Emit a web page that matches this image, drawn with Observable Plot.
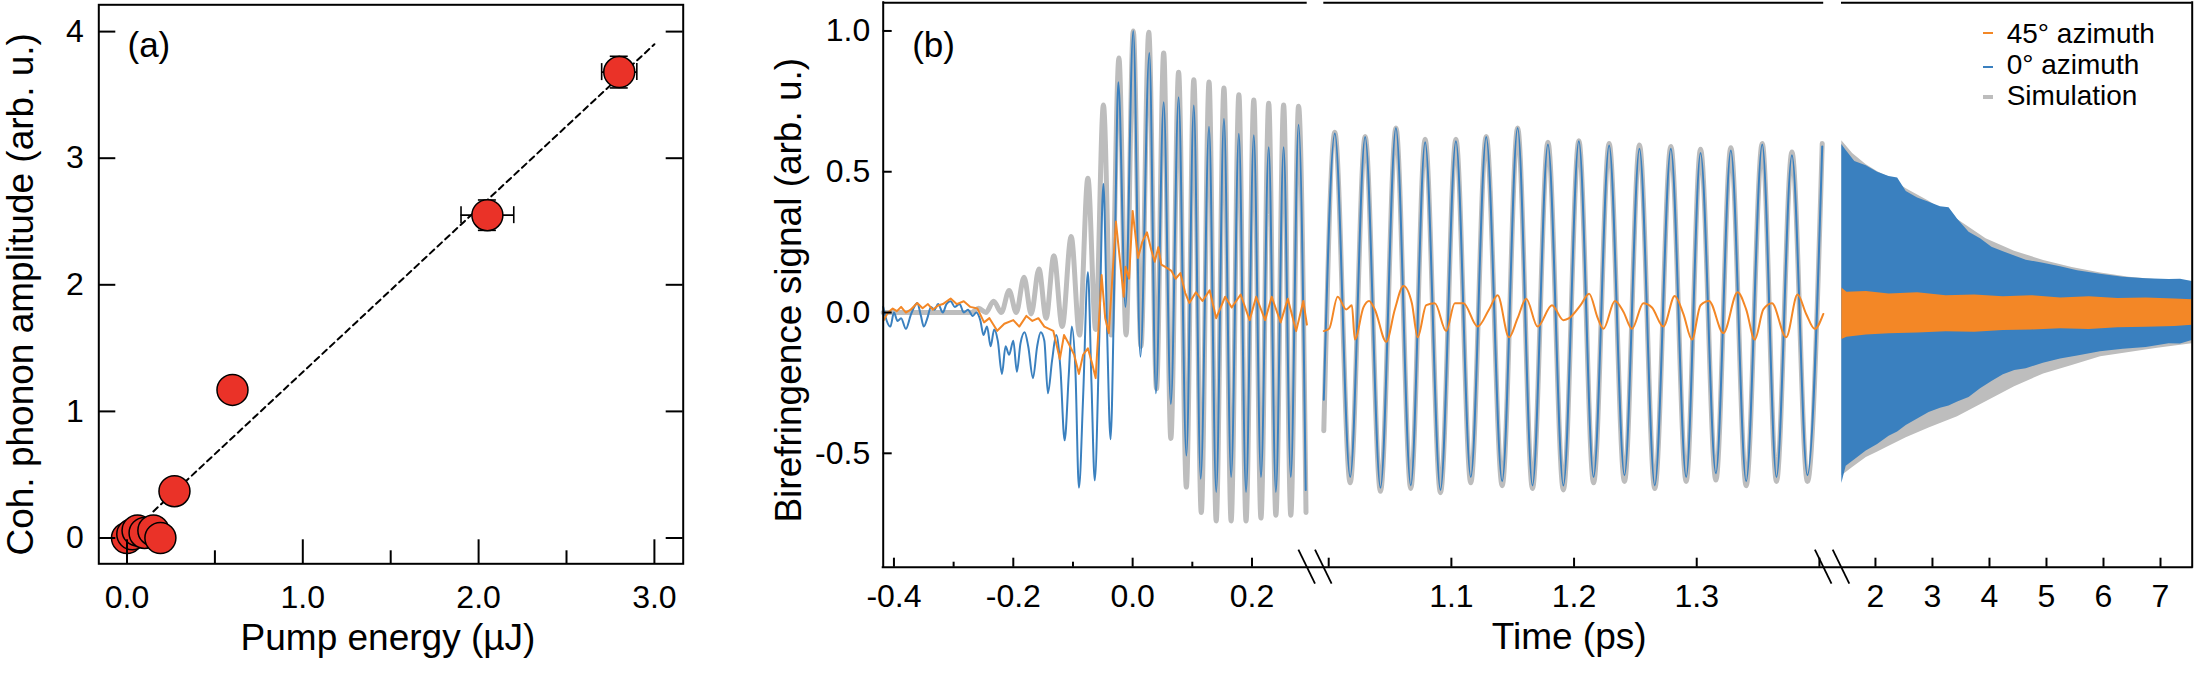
<!DOCTYPE html>
<html>
<head>
<meta charset="utf-8">
<script src="https://cdn.jsdelivr.net/npm/d3@7"></script>
<script src="https://cdn.jsdelivr.net/npm/@observablehq/plot@0.6"></script>
<style>
  html, body { margin: 0; padding: 0; background: #fff; }
  #fig { position: relative; width: 2196px; height: 673px; overflow: hidden; background: #fff;
         font-family: "Liberation Sans", Arial, Helvetica, sans-serif; }
  #pa { position: absolute; left: 0; top: 0; width: 740px; height: 673px; }
  #pb { position: absolute; left: 740px; top: 0; width: 1456px; height: 673px; }
  #pa svg, #pb svg { max-width: none; }
  .lg-txt { position: absolute; left: 2006.7px; font-size: 28px; line-height: 28px; white-space: nowrap; color: #000; }
  .lg-sw { position: absolute; left: 1983px; width: 10px; }
</style>
</head>
<body>
<div id="fig">
  <div id="pa"></div>
  <div id="pb"></div>
  <div class="lg-sw" style="top:32.3px;height:2px;background:#F38726"></div>
  <div class="lg-txt" style="top:20.3px">45° azimuth</div>
  <div class="lg-sw" style="top:65.6px;height:2.4px;background:#3A80BF"></div>
  <div class="lg-txt" style="top:51.3px">0° azimuth</div>
  <div class="lg-sw" style="top:95px;height:4px;background:#BDBDBD"></div>
  <div class="lg-txt" style="top:82.3px">Simulation</div>
</div>
<script>
const FONT = '"Liberation Sans", Arial, Helvetica, sans-serif';
const RED = "#EA3228", ORANGE = "#F38726", BLUE = "#3A80BF", GRAY = "#BDBDBD";

// ---------------- Panel (a) data ----------------
const pumpEnergy = [0.00, 0.03, 0.06, 0.10, 0.15, 0.19, 0.27, 0.60, 2.05, 2.80];
const phononAmp  = [0.00, 0.03, 0.06, 0.04, 0.06, 0.00, 0.37, 1.17, 2.55, 3.68];
const energyErr  = [0, 0, 0, 0, 0, 0, 0, 0, 0.15, 0.10];
const ampErr     = [0, 0, 0, 0, 0, 0, 0, 0, 0.12, 0.125];
const fitEnergy  = [0.15, 3.0];
const fitAmp     = [0.21, 3.9];
const aXMajor = [0, 1, 2, 3];
const aXMinor = [0.5, 1.5, 2.5];
const aYTicks = [0, 1, 2, 3, 4];

// ---------------- Panel (b) data ----------------
// segment 1 (-0.42 .. 0.29 ps)
const simT1 = [-0.418,-0.300,-0.270,-0.258,-0.246,-0.233,-0.220,-0.207,-0.195,-0.182,-0.170,-0.157,-0.145,-0.132,-0.118,-0.103,-0.089,-0.075,-0.062,-0.049,-0.036,-0.023,-0.011,0.001,0.014,0.027,0.040,0.052,0.064,0.077,0.090,0.1025,0.115,0.128,0.140,0.153,0.165,0.178,0.190,0.203,0.215,0.228,0.240,0.253,0.265,0.278,0.2905];
const simV1 = [0,0,0,0.015,0.0,0.04,0.0,0.078,0.0,0.125,-0.005,0.155,-0.02,0.202,-0.05,0.27,-0.08,0.477,-0.06,0.737,-0.08,0.904,-0.08,1.0,-0.12,0.995,-0.27,0.922,-0.447,0.853,-0.62,0.827,-0.71,0.819,-0.74,0.797,-0.74,0.773,-0.74,0.755,-0.73,0.743,-0.72,0.737,-0.72,0.733,-0.71];

const az0T1 = [-0.418,-0.412,-0.406,-0.400,-0.394,-0.388,-0.380,-0.372,-0.366,-0.361,-0.355,-0.350,-0.344,-0.338,-0.332,-0.326,-0.318,-0.312,-0.305,-0.298,-0.290,-0.283,-0.276,-0.268,-0.262,-0.255,
  -0.250,-0.244,-0.238,-0.232,-0.226,-0.219,-0.213,-0.207,-0.200,-0.194,-0.188,-0.181,-0.175,-0.167,-0.160,-0.154,-0.148,-0.142,-0.135,-0.128,-0.121,-0.114,-0.107,-0.102,-0.096,-0.090,-0.083,-0.075,-0.069,-0.0635,-0.056,-0.049,-0.043,-0.037,-0.030,-0.024,-0.012,
  0.001,0.013,0.028,0.039,0.052,0.064,0.077,0.090,0.1025,0.114,0.128,0.140,0.153,0.165,0.178,0.190,0.203,0.215,0.228,0.240,0.253,0.265,0.278,0.290];
const az0V1 = [0.02,-0.03,-0.05,0.0,-0.03,-0.02,-0.058,-0.01,0.02,0.034,-0.01,-0.05,-0.02,0.02,0.01,0.03,0.0,0.03,0.04,0.02,0.03,0.0,0.01,-0.012,0.0,-0.03,
  -0.08,-0.05,-0.12,-0.06,-0.10,-0.218,-0.12,-0.15,-0.10,-0.21,-0.11,-0.07,-0.12,-0.233,-0.12,-0.07,-0.10,-0.287,-0.17,-0.08,-0.2,-0.454,-0.22,-0.05,-0.2,-0.622,-0.3,0.143,-0.25,-0.596,-0.1,0.457,-0.05,-0.45,0.2,0.818,0.02,
  1.0,-0.157,0.922,-0.287,0.747,-0.325,0.765,-0.508,0.735,-0.59,0.66,-0.637,0.688,-0.584,0.635,-0.637,0.63,-0.584,0.587,-0.637,0.587,-0.584,0.667,-0.63];

const az45T1 = [-0.417,-0.410,-0.402,-0.395,-0.388,-0.380,-0.372,-0.361,-0.352,-0.343,-0.335,-0.326,-0.318,-0.305,-0.295,-0.283,-0.272,-0.260,-0.249,-0.240,-0.227,-0.215,-0.200,-0.190,-0.178,-0.168,-0.158,-0.148,-0.133,-0.122,-0.115,-0.107,-0.098,-0.090,-0.083,-0.075,-0.068,-0.062,-0.052,-0.046,-0.040,-0.028,-0.015,-0.012,-0.006,0.0,0.009,0.016,0.024,0.031,0.037,0.043,0.048,0.054,0.065,0.072,0.080,0.088,0.095,0.106,0.117,0.129,0.140,0.155,0.166,0.181,0.196,0.207,0.222,0.233,0.248,0.260,0.274,0.286,0.292];
const az45V1 = [-0.027,0.0,0.014,0.005,0.02,0.0,0.01,0.034,0.015,0.03,0.01,0.025,0.03,0.05,0.03,0.04,0.02,0.014,-0.035,-0.02,-0.065,-0.04,-0.027,-0.05,-0.012,-0.03,-0.02,-0.05,-0.065,-0.165,-0.08,-0.111,-0.15,-0.218,-0.15,-0.127,-0.18,-0.233,0.133,-0.02,-0.073,0.323,0.056,0.163,0.12,0.361,0.194,0.25,0.285,0.224,0.18,0.232,0.17,0.163,0.148,0.12,0.14,0.07,0.034,0.072,0.041,0.079,-0.02,0.056,0.018,0.064,-0.027,0.056,-0.027,0.056,-0.035,0.049,-0.066,0.041,-0.043];

// segment 2 (1.0 .. 1.4 ps)
const tT2 = [0.9957,1.005,1.0175,1.0297,1.0422,1.0548,1.0669,1.0786,1.0911,1.1037,1.1158,1.1284,1.1414,1.154,1.1661,1.1787,1.1913,1.2039,1.2159,1.2286,1.2411,1.2533,1.2658,1.2789,1.2914,1.3031,1.3156,1.3278,1.3403,1.3534,1.365,1.3776,1.3902,1.4023];
const simV2 = [-0.42,0.64,-0.605,0.625,-0.635,0.655,-0.625,0.615,-0.64,0.615,-0.605,0.625,-0.615,0.655,-0.625,0.605,-0.63,0.61,-0.605,0.6,-0.6,0.595,-0.625,0.59,-0.6,0.58,-0.595,0.585,-0.615,0.6,-0.6,0.57,-0.6,0.6];
const az0V2 = [-0.31,0.636,-0.584,0.623,-0.622,0.655,-0.614,0.605,-0.63,0.608,-0.584,0.623,-0.599,0.655,-0.614,0.597,-0.614,0.608,-0.584,0.593,-0.578,0.582,-0.614,0.582,-0.584,0.567,-0.571,0.575,-0.599,0.597,-0.584,0.559,-0.578,0.59];
const az45T2 = [0.9956,1.0003,1.0073,1.0143,1.0189,1.0213,1.0283,1.0329,1.0376,1.0469,1.0539,1.0609,1.0678,1.0725,1.0795,1.0865,1.0958,1.1028,1.1098,1.1214,1.1307,1.1377,1.1470,1.1540,1.1610,1.1703,1.1820,1.1913,1.1960,1.2053,1.2123,1.2193,1.2239,1.2333,1.2402,1.2472,1.2565,1.2635,1.2728,1.2821,1.2891,1.2961,1.3031,1.3100,1.3217,1.3333,1.3403,1.3473,1.3543,1.3613,1.3729,1.3822,1.3892,1.3962,1.4032];
const az45V2 = [-0.066,-0.058,0.056,0.011,0.026,-0.096,0.018,0.041,0.011,-0.104,0.011,0.094,0.033,-0.088,0.026,0.033,-0.066,0.033,0.033,-0.050,0.011,0.061,-0.088,-0.020,0.049,-0.050,0.026,-0.027,-0.020,0.026,0.067,-0.020,-0.058,0.041,0.003,-0.058,0.033,0.018,-0.050,0.059,-0.005,-0.096,0.026,0.041,-0.073,0.072,0.011,-0.096,0.011,0.033,-0.088,0.064,-0.005,-0.058,-0.005];

// segment 3 (1.4 .. 7.5 ps): envelopes of the dense oscillation
const az0T3  = [1.410,1.487,1.638,1.838,2.038,2.239,2.389,2.540,2.740,2.941,3.141,3.291,3.442,3.642,3.843,4.043,4.244,4.444,4.645,4.945,5.246,5.546,5.947,6.348,6.749,7.150,7.351,7.556];
const az0Hi3 = [0.597,0.575,0.536,0.521,0.498,0.483,0.478,0.430,0.407,0.392,0.376,0.372,0.331,0.285,0.262,0.232,0.216,0.201,0.186,0.175,0.163,0.148,0.136,0.125,0.120,0.117,0.118,0.110];
const az0Lo3 = [-0.607,-0.546,-0.523,-0.492,-0.469,-0.439,-0.424,-0.401,-0.378,-0.355,-0.340,-0.332,-0.318,-0.302,-0.271,-0.245,-0.221,-0.206,-0.200,-0.180,-0.165,-0.154,-0.139,-0.130,-0.124,-0.111,-0.112,-0.099];
const simT3  = [1.41,1.60,1.84,2.04,2.24,2.54,2.94,3.44,3.94,4.44,4.95,5.45,5.95,6.45,6.95,7.556];
const simHi3 = [0.61,0.565,0.525,0.50,0.48,0.44,0.395,0.33,0.262,0.218,0.185,0.16,0.14,0.125,0.116,0.11];
const simLo3 = [-0.58,-0.55,-0.515,-0.495,-0.475,-0.445,-0.41,-0.37,-0.317,-0.264,-0.218,-0.188,-0.157,-0.142,-0.127,-0.111];
const az45T3  = [1.41,1.50,1.84,2.24,2.74,3.24,3.74,4.24,4.74,5.25,5.75,6.25,6.75,7.25,7.556];
const az45Hi3 = [0.087,0.072,0.075,0.066,0.07,0.06,0.062,0.056,0.06,0.052,0.056,0.05,0.052,0.048,0.045];
const az45Lo3 = [-0.096,-0.088,-0.08,-0.075,-0.073,-0.068,-0.07,-0.064,-0.062,-0.058,-0.06,-0.054,-0.052,-0.05,-0.045];

// axis ticks of panel (b)
const bXMajor = [-0.4, -0.2, 0.0, 0.2, 1.0, 1.1, 1.2, 1.3, 1.4, 2, 3, 4, 5, 6, 7];
const bXMinor = [-0.3, -0.1, 0.1];
const bXLabels = [-0.4, -0.2, 0.0, 0.2, 1.1, 1.2, 1.3, 2, 3, 4, 5, 6, 7];
const bYTicks = [-0.5, 0.0, 0.5, 1.0];
// broken axis: segment limits
const segStart = [-0.418, 0.996, 1.4045];
const segEnd   = [0.2925, 1.4035, 7.556];

// ---------------- build tables ----------------
const zip = (T, V) => T.map((t, i) => ({t, v: V[i]})).filter(d => d.v !== undefined);
const band = (T, H, L) => T.map((t, i) => ({t, hi: H[i], lo: L[i]}));
const pts = pumpEnergy.map((x, i) => ({x, y: phononAmp[i], ex: energyErr[i], ey: ampErr[i]}));
const errPts = pts.filter(d => d.ex > 0);
const fit = fitEnergy.map((x, i) => ({x, y: fitAmp[i]}));

const sim1 = zip(simT1, simV1), az01 = zip(az0T1, az0V1), az451 = zip(az45T1, az45V1);
const sim2 = zip(tT2, simV2), az02 = zip(tT2, az0V2), az452 = zip(az45T2, az45V2);
const sim3 = band(simT3, simHi3, simLo3), az03 = band(az0T3, az0Hi3, az0Lo3), az453 = band(az45T3, az45Hi3, az45Lo3);
const topSegs = segStart.map((a, i) => ({a, b: segEnd[i]}));

// ---------------- panel (a) ----------------
const aXdom = [-0.1604, 3.1638], aYdom = [-0.2038, 4.2117];
const K = {stroke: "black"};
const plotA = Plot.plot({
  width: 740, height: 673,
  marginLeft: 98.3, marginRight: 57.3, marginTop: 4.3, marginBottom: 109.7,
  x: {domain: aXdom}, y: {domain: aYdom},
  style: {fontFamily: FONT, fontSize: "32px", color: "black", background: "transparent", overflow: "visible"},
  marks: [
    Plot.line(fit, {x: "x", y: "y", ...K, strokeWidth: 2, strokeDasharray: "6,4.5"}),
    Plot.ruleY(errPts, {y: "y", x1: d => d.x - d.ex, x2: d => d.x + d.ex, ...K, strokeWidth: 1.6}),
    Plot.ruleX(errPts, {x: d => d.x - d.ex, y1: "y", y2: "y", insetTop: -8.5, insetBottom: -8.5, ...K, strokeWidth: 1.6}),
    Plot.ruleX(errPts, {x: d => d.x + d.ex, y1: "y", y2: "y", insetTop: -8.5, insetBottom: -8.5, ...K, strokeWidth: 1.6}),
    Plot.ruleX(errPts, {x: "x", y1: d => d.y - d.ey, y2: d => d.y + d.ey, ...K, strokeWidth: 1.6}),
    Plot.ruleY(errPts, {y: d => d.y - d.ey, x1: "x", x2: "x", insetLeft: -9, insetRight: -9, ...K, strokeWidth: 1.6}),
    Plot.ruleY(errPts, {y: d => d.y + d.ey, x1: "x", x2: "x", insetLeft: -9, insetRight: -9, ...K, strokeWidth: 1.6}),
    Plot.dot(pts, {x: "x", y: "y", r: 15.5, fill: RED, ...K, strokeWidth: 1.5}),
    Plot.frame({...K, strokeWidth: 2}),
    Plot.ruleX(aXMajor, {x: d => d, y1: aYdom[0], y2: aYdom[0], insetTop: 0, insetBottom: 24, ...K, strokeWidth: 2}),
    Plot.ruleX(aXMinor, {x: d => d, y1: aYdom[0], y2: aYdom[0], insetTop: 0, insetBottom: 13, ...K, strokeWidth: 2}),
    Plot.ruleY(aYTicks, {y: d => d, x1: aXdom[0], x2: aXdom[0], insetLeft: 0, insetRight: -17, ...K, strokeWidth: 2}),
    Plot.ruleY(aYTicks, {y: d => d, x1: aXdom[1], x2: aXdom[1], insetLeft: -17, insetRight: 0, ...K, strokeWidth: 2}),
    Plot.axisX(aXMajor, {tickSize: 0, tickPadding: 21, tickFormat: d => d.toFixed(1), label: null}),
    Plot.axisY(aYTicks, {tickSize: 0, tickPadding: 15, tickFormat: d => String(d), label: null}),
    Plot.text(["Pump energy (µJ)"], {text: d => d, frameAnchor: "bottom", textAnchor: "middle", dx: -3, dy: 86, fontSize: 37}),
    Plot.text(["Coh. phonon amplitude (arb. u.)"], {text: d => d, frameAnchor: "left", textAnchor: "middle", lineAnchor: "middle", rotate: -90, dx: -77.4, dy: 10, fontSize: 37}),
    Plot.text(["(a)"], {text: d => d, frameAnchor: "top-left", textAnchor: "start", lineAnchor: "top", dx: 28.7, dy: 27.6, fontSize: 35})
  ]
});
document.getElementById("pa").appendChild(plotA);

// ---------------- panel (b) ----------------
const bXdom = [-0.418, 0.2925, 0.996, 1.4035, 1.4045, 7.556];
const bXrange = [142.7, 566.7, 583.3, 1083.2, 1101, 1451.7];
const bYdom = [-0.9045, 1.1];
const fmtB = d => (d >= 1.5 ? String(d) : d.toFixed(1));

const plotB = Plot.plot({
  width: 1456, height: 673,
  marginLeft: 142.7, marginRight: 4.3, marginTop: 2.3, marginBottom: 106.3,
  x: {type: "linear", domain: bXdom, range: bXrange},
  y: {domain: bYdom},
  style: {fontFamily: FONT, fontSize: "32px", color: "black", background: "transparent", overflow: "visible"},
  marks: [
    // dense part: envelopes
    Plot.areaY(sim3, {x: "t", y1: "lo", y2: "hi", fill: GRAY}),
    Plot.areaY(az03, {x: "t", y1: "lo", y2: "hi", fill: BLUE}),
    Plot.areaY(az453, {x: "t", y1: "lo", y2: "hi", fill: ORANGE}),
    // segments 1 and 2
    Plot.line(sim1, {x: "t", y: "v", stroke: GRAY, strokeWidth: 5, curve: "monotone-x"}),
    Plot.line(sim2, {x: "t", y: "v", stroke: GRAY, strokeWidth: 5, curve: "monotone-x"}),
    Plot.line(az01, {x: "t", y: "v", stroke: BLUE, strokeWidth: 2, curve: "monotone-x"}),
    Plot.line(az02, {x: "t", y: "v", stroke: BLUE, strokeWidth: 2, curve: "monotone-x"}),
    Plot.line(az451, {x: "t", y: "v", stroke: ORANGE, strokeWidth: 2}),
    Plot.line(az452, {x: "t", y: "v", stroke: ORANGE, strokeWidth: 2, curve: "monotone-x"}),
    // frame with gaps on top
    Plot.ruleY(topSegs, {y: bYdom[1], x1: "a", x2: "b", ...K, strokeWidth: 2}),
    Plot.ruleY([bYdom[0]], {...K, strokeWidth: 2, strokeLinecap: "square"}),
    Plot.ruleX([bXdom[0]], {...K, strokeWidth: 2, strokeLinecap: "square"}),
    Plot.ruleX([bXdom[5]], {...K, strokeWidth: 2, strokeLinecap: "square"}),
    // inward ticks
    Plot.ruleX(bXMajor, {x: d => d, y1: bYdom[0], y2: bYdom[0], insetTop: 0, insetBottom: 9, ...K, strokeWidth: 2}),
    Plot.ruleX(bXMinor, {x: d => d, y1: bYdom[0], y2: bYdom[0], insetTop: 0, insetBottom: 5, ...K, strokeWidth: 2}),
    Plot.ruleY(bYTicks, {y: d => d, x1: bXdom[0], x2: bXdom[0], insetLeft: 0, insetRight: -9, ...K, strokeWidth: 2}),
    Plot.axisX(bXLabels, {tickSize: 0, tickPadding: 17, tickFormat: fmtB, label: null}),
    Plot.axisY(bYTicks, {tickSize: 0, tickPadding: 13, tickFormat: d => d.toFixed(1), label: null}),
    Plot.text(["Time (ps)"], {text: d => d, frameAnchor: "bottom", textAnchor: "middle", dx: 31.4, dy: 81.5, fontSize: 37}),
    Plot.text(["Birefringence signal (arb. u.)"], {text: d => d, frameAnchor: "left", textAnchor: "middle", lineAnchor: "middle", rotate: -90, dx: -93.7, dy: 5.2, fontSize: 37}),
    Plot.text(["(b)"], {text: d => d, frameAnchor: "top-left", textAnchor: "start", lineAnchor: "top", dx: 29, dy: 29.5, fontSize: 35})
  ]
});
document.getElementById("pb").appendChild(plotB);

// axis-break marks drawn at the segment limits through the plot's own scales
(function () {
  const sx = plotB.scale("x"), sy = plotB.scale("y");
  const yb = sy.apply(bYdom[0]);
  const breaks = [segEnd[0], segStart[1], segEnd[1], segStart[2]];
  d3.select(plotB).append("g")
    .attr("stroke", "black").attr("stroke-width", 1.8)
    .selectAll("line").data(breaks).join("line")
    .attr("x1", d => sx.apply(d) - 8.3).attr("y1", yb - 17)
    .attr("x2", d => sx.apply(d) + 8.3).attr("y2", yb + 17);
})();
</script>
</body>
</html>
